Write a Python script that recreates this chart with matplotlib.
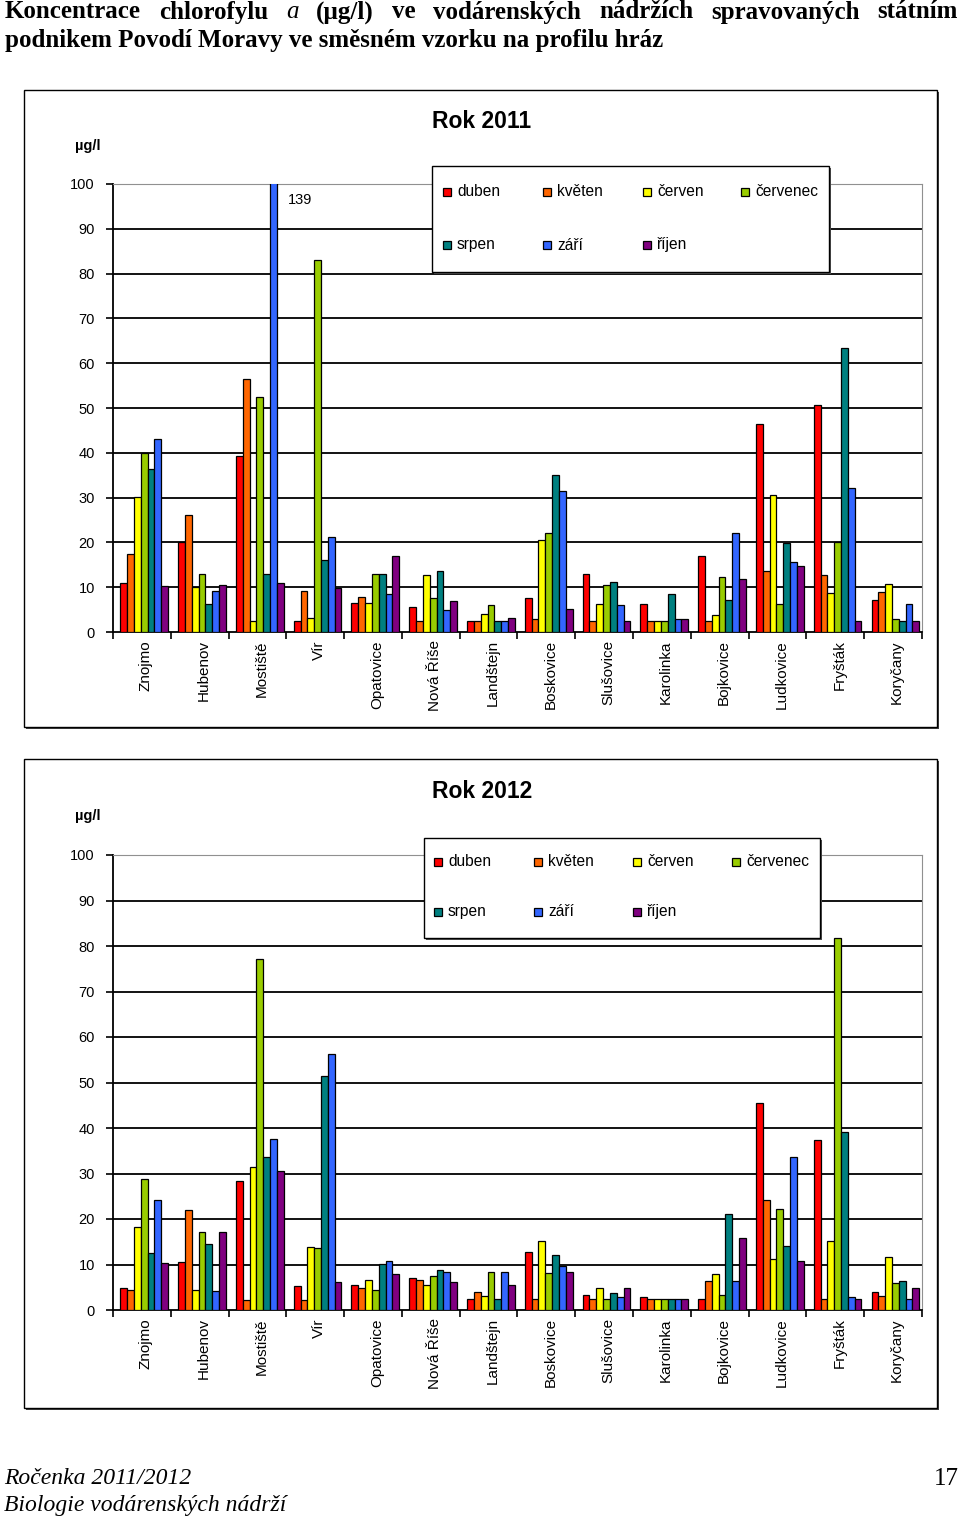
import matplotlib
matplotlib.use('Agg')
import matplotlib.pyplot as plt
from matplotlib.patches import Rectangle
import numpy as np

W, H = 960, 1519

reservoirs = ['Znojmo', 'Hubenov', 'Mostiště', 'Vír', 'Opatovice', 'Nová Říše',
              'Landštejn', 'Boskovice', 'Slušovice', 'Karolinka', 'Bojkovice',
              'Ludkovice', 'Fryšták', 'Koryčany']
months = ['duben', 'květen', 'červen', 'červenec', 'srpen', 'září', 'říjen']
colors = ['#FF0000', '#FF6600', '#FFFF00', '#99CC00', '#008080', '#3366FF', '#800080']

# 2011 (ug/l), order as reservoirs
duben11 = [11.0, 20.0, 39.2, 2.5, 6.5, 5.6, 2.5, 7.5, 13.0, 6.2, 17.0, 46.4, 50.7, 7.1]
kveten11 = [17.5, 26.2, 56.5, 9.2, 7.8, 2.5, 2.5, 2.8, 2.5, 2.5, 2.5, 13.6, 12.7, 8.9]
cerven11 = [30.2, 10.1, 2.5, 3.1, 6.5, 12.7, 4.1, 20.5, 6.3, 2.5, 3.7, 30.6, 8.6, 10.8]
cervenec11 = [39.9, 13.0, 52.5, 83.1, 13.0, 7.7, 6.0, 22.0, 10.4, 2.5, 12.2, 6.2, 20.1, 2.8]
srpen11 = [36.4, 6.2, 13.0, 16.0, 13.0, 13.6, 2.5, 35.0, 11.1, 8.4, 7.1, 19.9, 63.3, 2.5]
zari11 = [43.0, 9.2, 139.0, 21.3, 8.4, 4.8, 2.5, 31.5, 6.0, 2.8, 22.0, 15.7, 32.2, 6.2]
rijen11 = [10.2, 10.4, 11.0, 9.9, 17.0, 6.9, 3.1, 5.2, 2.5, 2.8, 11.8, 14.8, 2.5, 2.5]

# 2012
duben12 = [4.9, 10.6, 28.4, 5.3, 5.5, 7.1, 2.4, 12.7, 3.4, 2.8, 2.4, 45.4, 37.4, 4.0]
kveten12 = [4.5, 22.0, 2.3, 2.3, 4.9, 6.7, 4.0, 2.4, 2.4, 2.4, 6.4, 24.1, 2.4, 3.1]
cerven12 = [18.2, 4.5, 31.4, 13.8, 6.7, 5.5, 3.1, 15.1, 4.9, 2.4, 8.0, 11.1, 15.1, 11.7]
cervenec12 = [28.9, 17.2, 77.2, 13.6, 4.5, 7.5, 8.3, 8.1, 2.4, 2.4, 3.4, 22.2, 81.8, 5.9]
srpen12 = [12.6, 14.4, 33.6, 51.5, 10.1, 8.9, 2.4, 12.0, 3.7, 2.4, 21.0, 14.1, 39.2, 6.4]
zari12 = [24.1, 4.2, 37.6, 56.2, 10.8, 8.3, 8.3, 9.7, 2.8, 2.4, 6.4, 33.6, 2.8, 2.4]
rijen12 = [10.4, 17.2, 30.5, 6.2, 8.0, 6.2, 5.6, 8.3, 4.9, 2.4, 15.8, 10.8, 2.4, 4.9]

series11 = [duben11, kveten11, cerven11, cervenec11, srpen11, zari11, rijen11]
series12 = [duben12, kveten12, cerven12, cervenec12, srpen12, zari12, rijen12]

yticks = [0, 10, 20, 30, 40, 50, 60, 70, 80, 90, 100]

plt.rcParams['font.family'] = ['Liberation Sans', 'DejaVu Sans']
SERIF = ['Liberation Serif', 'DejaVu Serif']

fig = plt.figure(figsize=(W / 100, H / 100), dpi=100)


def fx(px):
    return px / W


def fy(py):
    return 1 - py / H


def frame(x0, y0, x1, y1, lw=1.0, shadow=2):
    # box with a dark shadow on the right / bottom, like the word export
    fig.patches.append(Rectangle((fx(x0 + shadow), fy(y1 + shadow)),
                                 fx(x1 - x0), (y1 - y0) / H,
                                 transform=fig.transFigure, fc='#404040',
                                 ec='none', zorder=0))
    fig.patches.append(Rectangle((fx(x0), fy(y1)), fx(x1 - x0), (y1 - y0) / H,
                                 transform=fig.transFigure, fc='white',
                                 ec='black', lw=lw, zorder=1))


def chart(series, top, bottom, title, title_y, unit_xy, leg_box, leg_rows,
          leg_cols, note=None):
    ax = fig.add_axes([fx(113), fy(bottom), fx(922 - 113), (bottom - top) / H])
    ax.set_zorder(3)
    n = len(reservoirs)
    bw = 0.118
    x = np.arange(n) + 0.04
    for i, (vals, col) in enumerate(zip(series, colors)):
        ax.bar(x + (i - 3) * bw, vals, width=bw, color=col, edgecolor='black',
               linewidth=0.9, zorder=3)
    ax.set_xlim(-0.5, n - 0.5)
    ax.set_ylim(0, 100)
    ax.set_yticks(yticks)
    ax.set_yticklabels([str(v) for v in yticks], fontsize=10.5)
    ax.set_xticks(np.arange(-0.5, n, 1))
    ax.set_xticklabels([])
    ax.set_xticks(np.arange(n) + 0.07, minor=True)
    ax.set_xticklabels(reservoirs, minor=True, rotation=90, fontsize=11,
                       va='top', ha='center')
    ax.tick_params(axis='x', which='minor', length=0, pad=6)
    ax.tick_params(axis='both', which='major', direction='out', length=5,
                   width=1.2, color='black')
    ax.tick_params(axis='y', pad=8)
    for v in yticks[1:-1]:
        ax.axhline(v, color='black', lw=1.3, zorder=1)
    ax.spines['left'].set_linewidth(1.3)
    ax.spines['bottom'].set_linewidth(1.3)
    ax.spines['top'].set_color('#909090')
    ax.spines['right'].set_color('#909090')
    ax.set_facecolor('none')

    fig.text(fx(432), fy(title_y), title, fontsize=16.5, fontweight='bold',
             ha='left', va='center')
    fig.text(fx(unit_xy[0]), fy(unit_xy[1]), 'µg/l', fontsize=10.5,
             fontweight='bold', ha='left', va='center')
    if note:
        fig.text(fx(note[0]), fy(note[1]), note[2], fontsize=10.5,
                 ha='left', va='center', zorder=5)

    # legend box
    lx0, ly0, lx1, ly1 = leg_box
    fig.patches.append(Rectangle((fx(lx0 + 2), fy(ly1 + 2)), fx(lx1 - lx0),
                                 (ly1 - ly0) / H, transform=fig.transFigure,
                                 fc='#505050', ec='none', zorder=4))
    fig.patches.append(Rectangle((fx(lx0), fy(ly1)), fx(lx1 - lx0),
                                 (ly1 - ly0) / H, transform=fig.transFigure,
                                 fc='white', ec='black', lw=1.0, zorder=5))
    for i, (name, col) in enumerate(zip(months, colors)):
        mx = leg_cols[i % 4]
        my = leg_rows[i // 4]
        fig.patches.append(Rectangle((fx(mx - 4), fy(my + 4)), fx(8), 8 / H,
                                     transform=fig.transFigure, fc=col,
                                     ec='black', lw=0.9, zorder=6))
        fig.text(fx(mx + 10), fy(my), name, fontsize=11.2, ha='left',
                 va='center', zorder=6)
    return ax


frame(24, 90, 937, 727)
frame(24, 759, 937, 1408)

chart(series11, 184, 632, 'Rok 2011', 122, (75, 146),
      (432, 166, 829, 272), (192, 245), (447, 547, 647, 745),
      note=(288, 200, '139'))
chart(series12, 855, 1310, 'Rok 2012', 792, (75, 816),
      (424, 838, 820, 938), (862, 912), (438, 538, 637, 736))

# page heading, first line justified
head1 = ['Koncentrace', 'chlorofylu', 'a', '(µg/l)', 've', 'vodárenských',
         'nádržích', 'spravovaných', 'státním']
head2 = 'podnikem Povodí Moravy ve směsném vzorku na profilu hráz'
HS = 18
renderer = fig.canvas.get_renderer()
words = []
for w in head1:
    style = 'italic' if w == 'a' else 'normal'
    wt = 'normal' if w == 'a' else 'bold'
    t = fig.text(0, fy(12), w, ha='left', va='center', fontstyle=style,
                 family=SERIF, fontsize=HS, fontweight=wt)
    words.append(t)
widths = [t.get_window_extent(renderer).width for t in words]
x0, x1 = 5, 958
gap = (x1 - x0 - sum(widths)) / (len(words) - 1)
pos = x0
for t, wd in zip(words, widths):
    t.set_x(fx(pos))
    pos += wd + gap
fig.text(fx(5), fy(41), head2, ha='left', va='center', family=SERIF,
         fontsize=HS, fontweight='bold')

# footer
fig.text(fx(4), fy(1478), 'Ročenka 2011/2012', ha='left', va='center',
         family=SERIF, fontsize=17, fontstyle='italic')
fig.text(fx(4), fy(1505), 'Biologie vodárenských nádrží', ha='left',
         va='center', family=SERIF, fontsize=17, fontstyle='italic')
fig.text(fx(959), fy(1479), '17', ha='right', va='center', family=SERIF,
         fontsize=18)

fig.savefig('out.png', dpi=100)
